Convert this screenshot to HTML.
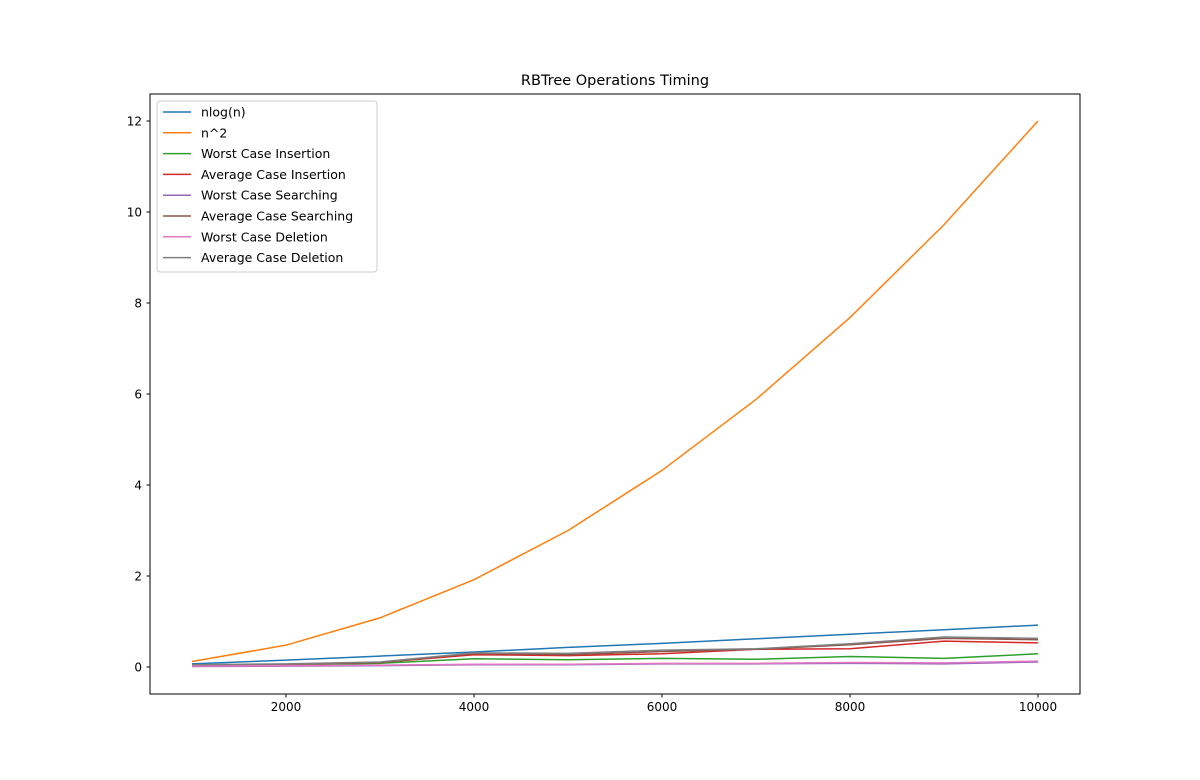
<!DOCTYPE html>
<html><head><meta charset="utf-8"><style>
body{margin:0;background:#fff;}
svg{display:block;font-family:"DejaVu Sans","Liberation Sans",sans-serif;}
</style></head><body>
<svg id="chart" width="1200" height="780">
<rect width="1200" height="780" fill="#fff"/>
<text x="615" y="85" text-anchor="middle" font-size="14.5">RBTree Operations Timing</text>
<g id="plot"></g>
<rect x="150" y="94" width="930" height="600" fill="none" stroke="#000" stroke-width="1"/>
<g id="axes"></g>
<g id="legend"></g>
</svg>
<script>
const xs=[1000,2000,3000,4000,5000,6000,7000,8000,9000,10000];
const nlogn=[0.07,0.15,0.24,0.33,0.43,0.52,0.62,0.72,0.82,0.92];
const nsq=[0.12,0.48,1.08,1.92,3.0,4.32,5.88,7.68,9.72,12.0];
const worstIns=[0.03,0.05,0.08,0.18,0.16,0.19,0.17,0.23,0.19,0.29];
const avgIns=[0.04,0.06,0.10,0.27,0.25,0.29,0.39,0.40,0.57,0.53];
const worstSearch=[0.01,0.02,0.03,0.05,0.05,0.07,0.07,0.08,0.07,0.11];
const avgSearch=[0.04,0.06,0.10,0.30,0.27,0.34,0.39,0.49,0.63,0.60];
const worstDel=[0.02,0.03,0.04,0.06,0.06,0.08,0.08,0.10,0.09,0.13];
const avgDel=[0.05,0.07,0.11,0.31,0.30,0.37,0.40,0.51,0.66,0.63];
const seriesNames=["nlog(n)","n^2","Worst Case Insertion","Average Case Insertion","Worst Case Searching","Average Case Searching","Worst Case Deletion","Average Case Deletion"];
const xTicks=[2000,4000,6000,8000,10000];
const yTicks=[0,2,4,6,8,10,12];
const colors=["#1f77b4","#ff7f0e","#2ca02c","#d62728","#9467bd","#8c564b","#e377c2","#7f7f7f"];
const allSeries=[nlogn,nsq,worstIns,avgIns,worstSearch,avgSearch,worstDel,avgDel];
const NS="http://www.w3.org/2000/svg";
const X=v=>192+(v-1000)*0.094;
const Y=v=>667-v*45.5;
function mk(t,a,p){const e=document.createElementNS(NS,t);for(const k in a)e.setAttribute(k,a[k]);p.appendChild(e);return e;}
const plot=document.getElementById('plot'),axes=document.getElementById('axes'),leg=document.getElementById('legend');
allSeries.forEach((s,i)=>{
 const l=mk('polyline',{points:s.map((v,j)=>X(xs[j])+','+Y(v)).join(' '),fill:'none',stroke:colors[i],'stroke-width':1.5},plot);
 
 
});
xTicks.forEach(t=>{
 mk('line',{x1:X(t),x2:X(t),y1:694,y2:697.5,stroke:'#000'},axes);
 const tx=mk('text',{x:X(t),y:711,'text-anchor':'middle','font-size':12},axes);tx.textContent=t;
 
 
});
yTicks.forEach(t=>{
 mk('line',{x1:146.5,x2:150,y1:Y(t),y2:Y(t),stroke:'#000'},axes);
 const tx=mk('text',{x:142,y:Y(t)+4.5,'text-anchor':'end','font-size':12},axes);tx.textContent=t;
 
 
});
const box=mk('rect',{x:157,y:101,width:220,height:171,rx:3,fill:'#fff','fill-opacity':0.8,stroke:'#ccc'},leg);


seriesNames.forEach((n,i)=>{
 const y=112+i*20.8;
 mk('line',{x1:163,x2:191,y1:y,y2:y,stroke:colors[i],'stroke-width':1.5},leg);
 const tx=mk('text',{x:201,y:y+4.5,'font-size':12.5},leg);tx.textContent=n;
 
 
});
</script>
</body></html>
